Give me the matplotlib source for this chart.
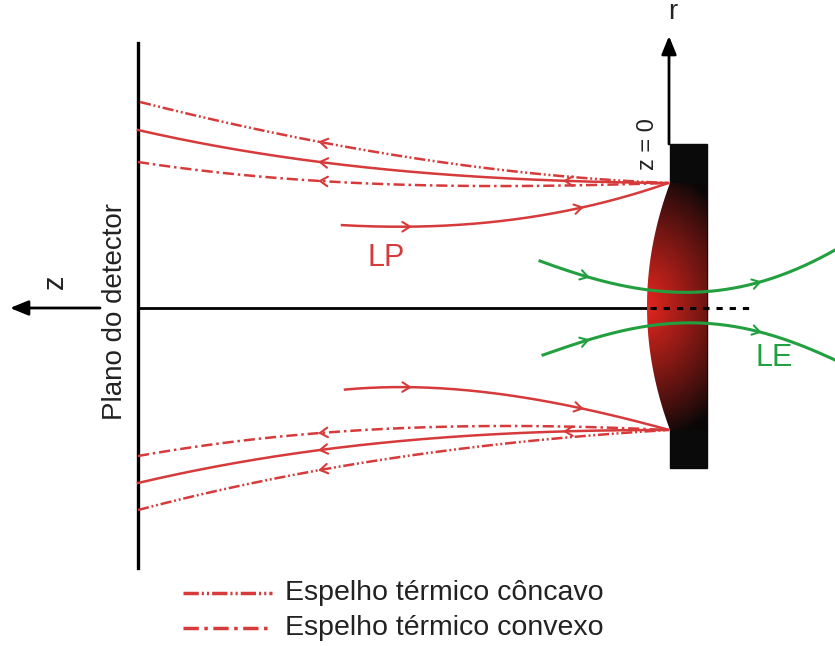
import numpy as np
import matplotlib
matplotlib.use("Agg")
import matplotlib.pyplot as plt
from matplotlib.path import Path
from matplotlib.patches import PathPatch, Rectangle

plt.rcParams['font.family'] = ['Liberation Sans', 'DejaVu Sans']
plt.rcParams['lines.scale_dashes'] = False

# ---- data (diagram coordinates, pixel-like units, y grows downward) ----
RED = '#d63a3a'
GREEN = '#22a040'

# upper group of returning rays (converge at the sample)
up_solid_x = [138, 320, 520, 668]
up_solid_y = [130, 162, 179, 183]
up_conc_x = [140, 320, 520, 668]
up_conc_y = [102, 142, 172, 183]
up_conv_x = [138, 320, 520, 668]
up_conv_y = [162, 181, 186, 183]
up_in_x = [342, 410, 520, 582, 668]
up_in_y = [225, 227, 218, 208, 183]

# lower group
lo_solid_x = [138, 320, 520, 668]
lo_solid_y = [483, 450, 433, 430]
lo_conc_x = [138, 320, 520, 668]
lo_conc_y = [510, 470, 442, 430]
lo_conv_x = [138, 320, 520, 668]
lo_conv_y = [456, 433, 426, 430]
lo_in_x = [345, 410, 520, 583, 668]
lo_in_y = [390, 386, 399, 407, 430]

# excitation beam (green)
g_up_x = [540, 588, 700, 760, 835]
g_up_y = [261, 277, 292, 282, 250]
g_lo_x = [543, 588, 700, 760, 835]
g_lo_y = [355, 340, 323, 332, 360]

# arrow positions (x) and direction
up_ret_arrows = 320
solid_ret_arrow2 = 565
in_arrows = [410, 582]
g_arrows = [588, 760]

# geometry
det_x, det_y0, det_y1 = 138, 43, 568
axis_y = 308
rect_x0, rect_x1, rect_y0, rect_y1 = 670, 707, 144, 468
lens_top, lens_bot, lens_left = 183, 430, 647

# legend
leg_labels = ['Espelho térmico côncavo', 'Espelho térmico convexo']
leg_y = [593, 628]

CONC = (0, (8, 2.0, 1.4, 2.0, 1.4, 2.0))
CONV = (0, (8, 2.8, 1.8, 2.8))
LCONC = (0, (11, 2.2, 1.5, 2.2, 1.5, 2.2))
LCONV = (0, (11, 4, 2.5, 4))

fig = plt.figure(figsize=(8.35, 6.46), dpi=100)
ax = fig.add_axes([0, 0, 1, 1])
ax.set_xlim(0, 835)
ax.set_ylim(646, 0)
ax.axis('off')


def curve(xp, yp, deg=None):
    xp = np.asarray(xp, float)
    yp = np.asarray(yp, float)
    if deg is None:
        deg = min(3, len(xp) - 1)
    c = np.polyfit(xp, yp, deg)
    xs = np.linspace(xp[0], xp[-1], 300)
    return xs, np.polyval(c, xs), c


def chevron(c, x0, direction, color, size=9, ang=32, z=5):
    y0 = np.polyval(c, x0)
    dy = np.polyval(np.polyder(c), x0)
    t = np.array([1.0, dy]) * direction
    t /= np.hypot(*t)
    for s in (1, -1):
        a = np.deg2rad(ang) * s
        R = np.array([[np.cos(a), -np.sin(a)], [np.sin(a), np.cos(a)]])
        b = R @ (-t) * size
        ax.plot([x0, x0 + b[0]], [y0, y0 + b[1]], color=color, lw=1.5,
                solid_capstyle='round', zorder=z)


def ray(xp, yp, ls, arrows, direction, color=RED, deg=None, lw=1.8, z=4):
    xs, ys, c = curve(xp, yp, deg)
    ax.plot(xs, ys, color=color, lw=lw, ls=ls, zorder=z)
    for xa in arrows:
        chevron(c, xa, direction, color, z=z + 1)


# red rays
ray(up_solid_x, up_solid_y, '-', [up_ret_arrows, solid_ret_arrow2], -1)
ray(up_conc_x, up_conc_y, CONC, [up_ret_arrows], -1)
ray(up_conv_x, up_conv_y, CONV, [up_ret_arrows], -1)
ray(up_in_x, up_in_y, '-', in_arrows, 1, deg=3)
ray(lo_solid_x, lo_solid_y, '-', [up_ret_arrows, solid_ret_arrow2], -1)
ray(lo_conc_x, lo_conc_y, CONC, [up_ret_arrows], -1)
ray(lo_conv_x, lo_conv_y, CONV, [up_ret_arrows], -1)
ray(lo_in_x, lo_in_y, '-', in_arrows, 1, deg=3)

# sample block
ax.add_patch(Rectangle((rect_x0, rect_y0), rect_x1 - rect_x0, rect_y1 - rect_y0,
                       color='#0a0a0a', zorder=6))
# lens-shaped heated region with gradient
ly = np.linspace(lens_top, lens_bot, 100)
lc = np.polyfit([lens_top, axis_y, lens_bot], [rect_x0, lens_left, rect_x0], 2)
lx = np.polyval(lc, ly)
verts = list(zip(lx, ly)) + [(rect_x1, lens_bot), (rect_x1, lens_top), (lx[0], ly[0])]
clip = PathPatch(Path(verts), facecolor='none', edgecolor='none')
ax.add_patch(clip)
gx = np.linspace(640, 710, 120)
gy = np.linspace(175, 440, 300)
GX, GY = np.meshgrid(gx, gy)
d = np.sqrt(((GX - 645) / 105) ** 2 + ((GY - 305) / 135) ** 2)
d = np.clip(d, 0, 1)
w = (1 - d) ** 0.9
red = np.array([0.90, 0.15, 0.12])
blk = np.array([0.05, 0.03, 0.03])
img = blk[None, None, :] + (red - blk)[None, None, :] * w[..., None]
im = ax.imshow(img, extent=(640, 710, 440, 175), origin='upper', zorder=7,
               interpolation='bilinear', aspect='auto')
im.set_clip_path(clip)

# green beam (drawn over the sample)
ray(g_up_x, g_up_y, '-', g_arrows, 1, color=GREEN, deg=4, lw=2.2, z=8)
ray(g_lo_x, g_lo_y, '-', g_arrows, 1, color=GREEN, deg=4, lw=2.2, z=8)

# detector plane and axes
ax.plot([det_x, det_x], [det_y0, det_y1], color='k', lw=2.4, zorder=3)
ax.plot([det_x, lens_left], [axis_y, axis_y], color='k', lw=2.0, zorder=3)
ax.plot([lens_left + 3, 750], [axis_y, axis_y], color='k', lw=2.2,
        ls=(0, (4.5, 5)), zorder=9)
ax.annotate('', xy=(10, axis_y), xytext=(100, axis_y),
            arrowprops=dict(arrowstyle='-|>,head_length=1.1,head_width=0.45',
                            color='k', lw=2.0, shrinkA=0, shrinkB=0))
ax.annotate('', xy=(669, 36), xytext=(669, rect_y0),
            arrowprops=dict(arrowstyle='-|>,head_length=1.1,head_width=0.45',
                            color='k', lw=2.0, shrinkA=0, shrinkB=0), zorder=5)

# text
TXT = '#222222'
ax.text(115, 311, 'Plano do detector', rotation=90, ha='center', va='center',
        fontsize=20, color=TXT)
ax.text(55, 282, 'z', rotation=90, ha='center', va='center', fontsize=21,
        color=TXT)
ax.text(673, 12, 'r', ha='center', va='center', fontsize=20, color=TXT)
ax.text(648, 144, 'z = 0', rotation=90, ha='center', va='center', fontsize=17,
        color=TXT)
ax.text(386, 258, 'LP', ha='center', va='center', fontsize=22, color=RED)
ax.text(774, 358, 'LE', ha='center', va='center', fontsize=22, color=GREEN)

# legend
for lab, yy, ls in zip(leg_labels, leg_y, [LCONC, LCONV]):
    ax.plot([183, 272], [yy, yy], color=RED, lw=2.5, ls=ls)
    ax.text(285, yy, lab, ha='left', va='center', fontsize=20.5, color=TXT)

fig.savefig('out.png', dpi=100)
